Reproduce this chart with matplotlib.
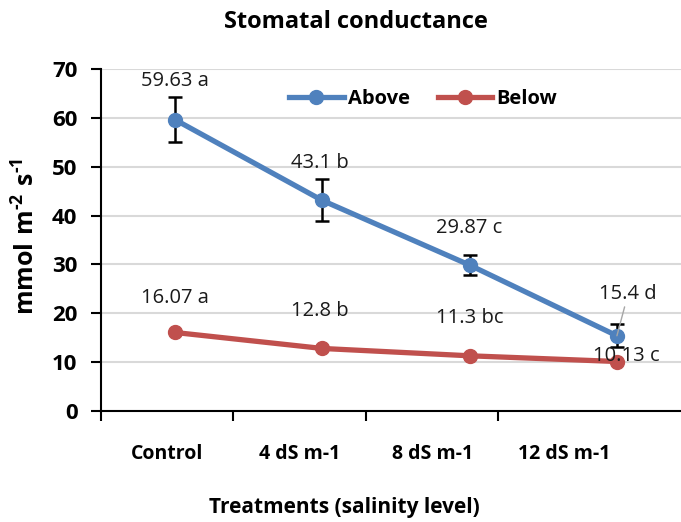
import matplotlib
matplotlib.use("Agg")
import matplotlib.pyplot as plt
from matplotlib.lines import Line2D

categories = ["Control", "4 dS m-1", "8 dS m-1", "12 dS m-1"]
above = [59.63, 43.1, 29.87, 15.4]
above_err = [4.6, 4.3, 2.0, 2.4]
below = [16.07, 12.8, 11.3, 10.13]
above_labels = ["59.63 a", "43.1 b", "29.87 c", "15.4 d"]
below_labels = ["16.07 a", "12.8 b", "11.3 bc", "10.13 c"]
yticks = [0, 10, 20, 30, 40, 50, 60, 70]

FONT = "Open Sans"
plt.rcParams["font.family"] = [FONT, "DejaVu Sans"]
plt.rcParams["mathtext.fontset"] = "custom"
plt.rcParams["mathtext.rm"] = "Open Sans:bold"
plt.rcParams["mathtext.it"] = "Open Sans:bold"
plt.rcParams["mathtext.bf"] = "Open Sans:bold"

BLUE = "#4F81BD"
RED = "#C0504D"

fig = plt.figure(figsize=(6.81, 5.22), dpi=100)
ax = fig.add_axes([101/681, 1-411/522, (681-101)/681, (411-69)/522])

# category axis
ax.set_xlim(-0.498, 3.879)
ax.set_ylim(0, 70)
ax.set_yticks(yticks)
ax.set_yticklabels([str(v) for v in yticks], fontsize=16, fontweight="bold")
ax.set_xticks(range(len(categories)))
ax.set_xticklabels(categories, fontsize=14, fontweight="bold")
ax.set_xticks([-0.5, 0.5, 1.5, 2.5], minor=True)
ax.tick_params(axis="x", which="major", length=0, pad=24)
ax.tick_params(axis="x", which="minor", length=7, width=1.5, direction="out")
ax.tick_params(axis="y", length=7, width=1.5, direction="out", pad=10)
ax.yaxis.grid(True, color="#D9D9D9", linewidth=1.5)
ax.set_axisbelow(True)
for s in ["top", "right"]:
    ax.spines[s].set_visible(False)
for s in ["left", "bottom"]:
    ax.spines[s].set_linewidth(1.5)
    ax.spines[s].set_color("black")

# data axis (points offset from category labels, as in the original)
lx = ax.twiny()
lx.set_xlim(-0.502, 3.435)
lx.set_ylim(0, 70)
lx.axis("off")
xs = list(range(len(categories)))
lx.errorbar(xs, above, yerr=above_err, fmt="none", ecolor="black",
            elinewidth=1.8, capsize=5, capthick=1.8, zorder=2)
lx.plot(xs, above, color=BLUE, lw=3.8, marker="o", ms=10, zorder=3)
lx.plot(xs, below, color=RED, lw=3.8, marker="o", ms=10, zorder=3)

above_off = [(0, 28), (-2, 27), (0, 27), (8, 30)]
below_off = [(0, 25), (-2, 27), (0, 27), (7, 4)]
for i, (v, t) in enumerate(zip(above, above_labels)):
    kw = {}
    if i == 3:
        kw["arrowprops"] = dict(arrowstyle="-", color="#A6A6A6", lw=1, shrinkA=0, shrinkB=0)
    lx.annotate(t, (xs[i], v), xytext=above_off[i], textcoords="offset points",
                ha="center", va="center", fontsize=14.5, color="#1a1a1a", zorder=5, **kw)
for i, (v, t) in enumerate(zip(below, below_labels)):
    lx.annotate(t, (xs[i], v), xytext=below_off[i], textcoords="offset points",
                ha="center", va="center", fontsize=14.5, color="#1a1a1a", zorder=5)

handles = [Line2D([], [], color=BLUE, lw=3.8, marker="o", ms=10),
           Line2D([], [], color=RED, lw=3.8, marker="o", ms=10)]
fig.legend(handles, ["Above", "Below"], loc="center", bbox_to_anchor=(423/681, 1-99/522),
           ncol=2, frameon=False, handlelength=2.7, handletextpad=0.2, columnspacing=1.4,
           prop={"family": FONT, "weight": "bold", "size": 14.5})

fig.text(356/681, 1-22/522, "Stomatal conductance", ha="center", va="center",
         fontsize=17, fontweight="bold")
fig.text(344/681, 1-507/522, "Treatments (salinity level)", ha="center", va="center",
         fontsize=15, fontweight="bold")
fig.text(27/681, 1-236/522, r"$\mathrm{mmol\ m}^{\text{-2}}\ \mathrm{s}^{\text{-1}}$",
         ha="center", va="center", rotation=90, fontsize=18, fontweight="bold")

fig.savefig("out.png", dpi=100)
